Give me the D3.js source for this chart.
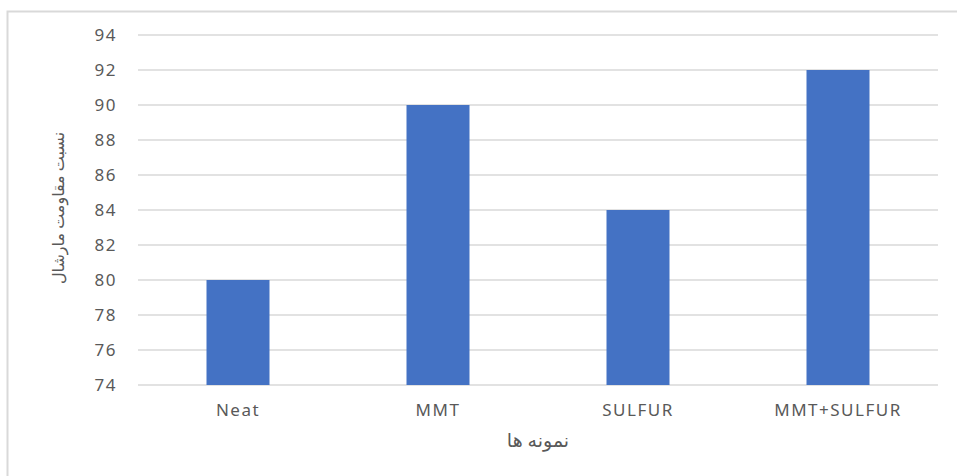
<!DOCTYPE html>
<html>
<head>
<meta charset="utf-8">
<script src="https://cdn.jsdelivr.net/npm/d3@7"></script>
<style>
  body { margin: 0; background: #fff; }
  text { font-family: "Noto Sans", "DejaVu Sans", sans-serif; fill: #595959; }
</style>
</head>
<body>
<svg id="chart" width="957" height="476"></svg>
<script>
var categories = ["Neat", "MMT", "SULFUR", "MMT+SULFUR"];
var values = [80, 90, 84, 92];
var yTicks = [74, 76, 78, 80, 82, 84, 86, 88, 90, 92, 94];
var xTitle = "نمونه ها";
var yTitle = "نسبت مقاومت مارشال";

var svg = d3.select("#chart");
var margin = {top: 35, right: 20, bottom: 91, left: 138};
var width = 938 - margin.left;
var height = 385 - margin.top;

// outer chart frame
svg.append("rect")
  .attr("x", 7.5).attr("y", 11.5)
  .attr("width", 970).attr("height", 480)
  .attr("fill", "none").attr("stroke", "#d9d9d9").attr("stroke-width", 2);

var g = svg.append("g").attr("transform", `translate(${margin.left}, ${margin.top})`);

var x = d3.scaleBand().domain(categories).range([0, width])
  .paddingInner(0.685).paddingOuter(0.3425);
var y = d3.scaleLinear().domain([74, 94]).range([height, 0]);

// gridlines
g.append("g")
  .selectAll("line")
  .data(yTicks)
  .enter().append("line")
  .attr("x1", 0).attr("x2", width)
  .attr("y1", d => y(d)).attr("y2", d => y(d))
  .attr("stroke", "#d9d9d9").attr("stroke-width", 1.5);

// y labels
var yAxis = g.append("g").call(d3.axisLeft(y).tickValues(yTicks).tickSize(0).tickPadding(21));
yAxis.select(".domain").remove();
yAxis.selectAll("text").style("font-size", "17px").attr("letter-spacing", 1.5).attr("dy", "0.35em");

// bars
g.selectAll(".bar")
  .data(values)
  .enter().append("rect")
  .attr("class", "bar")
  .attr("x", (d, i) => x(categories[i]))
  .attr("width", x.bandwidth())
  .attr("y", d => y(d))
  .attr("height", d => height - y(d))
  .attr("fill", "#4472c4");

// x labels
var xAxis = g.append("g").attr("transform", `translate(0, ${height})`)
  .call(d3.axisBottom(x).tickSize(0).tickPadding(19));
xAxis.select(".domain").remove();
xAxis.selectAll("text").style("font-size", "17px").attr("letter-spacing", 1.5);

// axis titles
svg.append("text")
  .attr("x", margin.left + width / 2).attr("y", 447)
  .attr("text-anchor", "middle").style("font-size", "19px")
  .attr("letter-spacing", 1)
  .text(xTitle);

svg.append("text")
  .attr("transform", "translate(64, 208) rotate(-90)")
  .attr("text-anchor", "middle").style("font-size", "16px")
  .text(yTitle);
</script>
</body>
</html>
